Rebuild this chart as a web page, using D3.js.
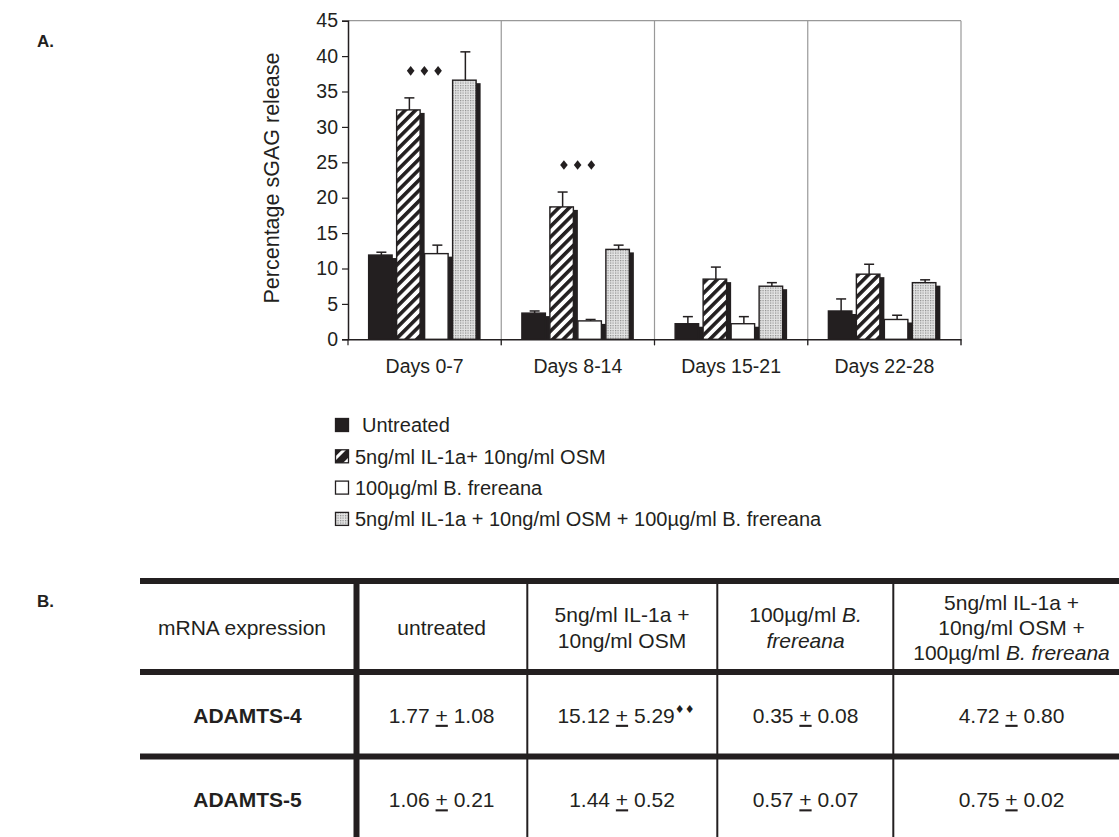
<!DOCTYPE html>
<html><head><meta charset="utf-8">
<script src="https://cdn.jsdelivr.net/npm/d3@7/dist/d3.min.js"></script>
<style>body{margin:0;background:#fff} svg{display:block;font-family:"Liberation Sans",Arial,Helvetica,sans-serif}</style>
</head><body><svg id="c" width="1119" height="837"></svg>
<script>
// ---------- DATA ----------
const categories = ["Days 0-7", "Days 8-14", "Days 15-21", "Days 22-28"];
const seriesNames = [
  "Untreated",
  "5ng/ml IL-1a+ 10ng/ml OSM",
  "100\u00b5g/ml B. frereana",
  "5ng/ml IL-1a + 10ng/ml OSM + 100\u00b5g/ml B. frereana"
];
const untreated      = [11.9, 3.7, 2.2, 4.0];
const untreatedErr   = [0.4, 0.3, 1.0, 1.7];
const il1Osm         = [32.4, 18.7, 8.5, 9.2];
const il1OsmErr      = [1.7, 2.1, 1.7, 1.4];
const frereana       = [12.1, 2.6, 2.2, 2.8];
const frereanaErr    = [1.2, 0.2, 1.0, 0.6];
const combo          = [36.6, 12.7, 7.5, 8.0];
const comboErr       = [4.0, 0.6, 0.5, 0.4];
const significance   = [3, 3, 0, 0];          // number of diamonds over the IL-1a+OSM bar
const yTicks         = [0, 5, 10, 15, 20, 25, 30, 35, 40, 45];
const yLabel         = "Percentage sGAG release";

const tableRowLabels = ["ADAMTS-4", "ADAMTS-5"];
const tableMeans     = [[1.77, 15.12, 0.35, 4.72], [1.06, 1.44, 0.57, 0.75]];
const tableSDs       = [[1.08, 5.29, 0.08, 0.80], [0.21, 0.52, 0.07, 0.02]];
const tableSig       = [[0, 2, 0, 0], [0, 0, 0, 0]];
// header lines: each line is list of [text, italic]
const tableHeader = [
  [[["mRNA expression", false]]],
  [[["untreated", false]]],
  [[["5ng/ml IL-1a +", false]], [["10ng/ml OSM", false]]],
  [[["100\u00b5g/ml ", false], ["B.", true]], [["frereana", true]]],
  [[["5ng/ml IL-1a +", false]], [["10ng/ml OSM +", false]], [["100\u00b5g/ml ", false], ["B. frereana", true]]]
];

// ---------- SETUP ----------
const values = [untreated, il1Osm, frereana, combo];
const errors = [untreatedErr, il1OsmErr, frereanaErr, comboErr];
const svg = d3.select("#c");
const ink = "#231f20";
const plot = {left: 348, right: 961, top: 20.7, bottom: 339.3};

const defs = svg.append("defs");
const hatch = defs.append("pattern").attr("id", "hatch").attr("patternUnits", "userSpaceOnUse")
  .attr("width", 7.4).attr("height", 7.4).attr("patternTransform", "rotate(45)");
hatch.append("rect").attr("width", 7.4).attr("height", 7.4).attr("fill", "#fff");
hatch.append("rect").attr("width", 3.6).attr("height", 7.4).attr("fill", ink);
const hatchL = defs.append("pattern").attr("id", "hatchL").attr("patternUnits", "userSpaceOnUse")
  .attr("width", 10).attr("height", 10).attr("patternTransform", "translate(335,0) rotate(45)");
hatchL.append("rect").attr("width", 10).attr("height", 10).attr("fill", ink);
hatchL.append("rect").attr("x", 3).attr("width", 3).attr("height", 10).attr("fill", "#fff");
const dots = defs.append("pattern").attr("id", "dots").attr("patternUnits", "userSpaceOnUse")
  .attr("width", 2.5).attr("height", 2.5);
dots.append("rect").attr("width", 2.5).attr("height", 2.5).attr("fill", "#e4e4e4");
dots.append("rect").attr("width", 1.2).attr("height", 1.2).attr("fill", "#8a8a8a");

const fills = [ink, "url(#hatch)", "#fff", "url(#dots)"];
const legendFills = [ink, "url(#hatchL)", "#fff", "url(#dots)"];

const y = d3.scaleLinear().domain([0, 45]).range([plot.bottom, plot.top]);
const x0 = d3.scaleBand().domain(categories).range([plot.left, plot.right]).padding(0);
const x1 = d3.scaleBand().domain(d3.range(4)).range([0, x0.bandwidth()]).paddingInner(0).paddingOuter(0.737);
const shadowDx = 4.5, shadowDy = 3;
const barW = x1.bandwidth() - shadowDx;

// frame: gray separators, top and right border
const g = svg.append("g");
g.selectAll("line.sep").data(categories.slice(1)).join("line")
  .attr("x1", d => x0(d)).attr("x2", d => x0(d))
  .attr("y1", plot.top).attr("y2", plot.bottom + 6)
  .attr("stroke", "#999").attr("stroke-width", 1.2);
g.append("line").attr("x1", plot.left).attr("x2", plot.right).attr("y1", plot.top).attr("y2", plot.top)
  .attr("stroke", "#999").attr("stroke-width", 1.2);
g.append("line").attr("x1", plot.right).attr("x2", plot.right).attr("y1", plot.top).attr("y2", plot.bottom + 6)
  .attr("stroke", "#999").attr("stroke-width", 1.2);

// bars
const flat = [];
categories.forEach((c, gi) => values.forEach((arr, si) => flat.push({c, gi, si, v: arr[gi], e: errors[si][gi]})));
const bx = d => x0(d.c) + x1(d.si);
const bars = g.append("g");
flat.forEach(d => {
  bars.append("rect").attr("x", bx(d) + shadowDx).attr("y", y(d.v) + shadowDy)
    .attr("width", barW).attr("height", Math.max(0, y(0) - y(d.v) - shadowDy)).attr("fill", ink);
  bars.append("rect").attr("x", bx(d)).attr("y", y(d.v))
    .attr("width", barW).attr("height", y(0) - y(d.v))
    .attr("fill", fills[d.si]).attr("stroke", ink).attr("stroke-width", 1.4);
});
// error bars
const eb = g.append("g").attr("stroke", ink).attr("stroke-width", 1.5);
flat.forEach(d => {
  const cx = bx(d) + barW / 2 + 1;
  eb.append("line").attr("x1", cx).attr("x2", cx).attr("y1", y(d.v)).attr("y2", y(d.v + d.e));
  eb.append("line").attr("x1", cx - 5).attr("x2", cx + 5).attr("y1", y(d.v + d.e)).attr("y2", y(d.v + d.e));
});
// significance diamonds
significance.forEach((n, gi) => {
  if (!n) return;
  const cx = x0(categories[gi]) + x1(1) + barW / 2 + 16;
  const cy = y(il1Osm[gi] + il1OsmErr[gi]) - 27;
  for (let k = 0; k < n; k++) {
    const dx = cx + (k - (n - 1) / 2) * 13.7;
    g.append("path").attr("d", `M${dx},${cy - 4.8}L${dx + 3.8},${cy}L${dx},${cy + 4.8}L${dx - 3.8},${cy}Z`).attr("fill", ink);
  }
});

// axes
const yAxis = g.append("g").attr("transform", `translate(${plot.left},0)`)
  .call(d3.axisLeft(y).tickValues(yTicks).tickSize(6).tickPadding(4));
yAxis.select(".domain").attr("stroke", ink).attr("stroke-width", 1.5);
yAxis.selectAll(".tick line").attr("stroke", ink).attr("stroke-width", 1.2);
yAxis.selectAll(".tick text").attr("font-size", 19.5).attr("fill", ink).attr("font-family", "Liberation Sans, Arial, sans-serif");

const xAxis = g.append("g").attr("transform", `translate(0,${plot.bottom})`)
  .call(d3.axisBottom(x0).tickSize(0).tickPadding(20));
xAxis.select(".domain").attr("stroke", ink).attr("stroke-width", 1.5);
xAxis.selectAll(".tick text").attr("font-size", 19.5).attr("fill", ink).attr("font-family", "Liberation Sans, Arial, sans-serif");
g.selectAll("line.xt").data(categories.map(c => x0(c)).concat([plot.right])).join("line")
  .attr("x1", d => d).attr("x2", d => d).attr("y1", plot.bottom).attr("y2", plot.bottom + 6)
  .attr("stroke", ink).attr("stroke-width", 1.2);

svg.append("text").attr("transform", `translate(279,${(plot.top + plot.bottom) / 2 - 2}) rotate(-90)`)
  .attr("text-anchor", "middle").attr("font-size", 21.5).attr("fill", ink).text(yLabel);

// legend
const lg = svg.append("g");
seriesNames.forEach((name, i) => {
  const cy = 425 + i * 31.3;
  lg.append("rect").attr("x", 335.5).attr("y", cy - 6.5).attr("width", 13).attr("height", 13)
    .attr("fill", legendFills[i]).attr("stroke", ink).attr("stroke-width", 1.3);
  lg.append("text").attr("x", i === 0 ? 362 : 355).attr("y", cy).attr("dy", "0.36em")
    .attr("font-size", 20).attr("fill", ink).text(name);
});

// panel letters
svg.append("text").attr("x", 37).attr("y", 47).attr("font-size", 17).attr("font-weight", "bold").attr("fill", ink).text("A.");
svg.append("text").attr("x", 37).attr("y", 607).attr("font-size", 17).attr("font-weight", "bold").attr("fill", ink).text("B.");

// ---------- TABLE ----------
const colEdges = [140, 356.5, 527.3, 717.3, 893.3, 1130];
const rowEdges = [581, 672, 756.5, 841];
const tg = svg.append("g");
const colCenters = [242, 441.7, 622, 805.5, 1011.5];
// thin column lines
colEdges.slice(2, 5).forEach(xx => tg.append("line").attr("x1", xx).attr("x2", xx)
  .attr("y1", rowEdges[0]).attr("y2", 837).attr("stroke", ink).attr("stroke-width", 2));
tg.append("line").attr("x1", colEdges[1]).attr("x2", colEdges[1]).attr("y1", rowEdges[0]).attr("y2", 837)
  .attr("stroke", ink).attr("stroke-width", 6);
rowEdges.slice(0, 3).forEach(yy => tg.append("line").attr("x1", 140).attr("x2", 1119)
  .attr("y1", yy).attr("y2", yy).attr("stroke", ink).attr("stroke-width", 6));

const lineH = 25.3;
const headMid = (rowEdges[0] + rowEdges[1]) / 2 + 1;
tableHeader.forEach((lines, ci) => {
  lines.forEach((segs, li) => {
    const t = tg.append("text").attr("x", colCenters[ci])
      .attr("y", headMid + (li - (lines.length - 1) / 2) * lineH).attr("dy", "0.36em")
      .attr("text-anchor", "middle").attr("font-size", 21).attr("fill", ink);
    segs.forEach(([s, it]) => t.append("tspan").attr("font-style", it ? "italic" : "normal").text(s));
  });
});
tableRowLabels.forEach((lab, ri) => {
  const cy = (rowEdges[ri + 1] + rowEdges[ri + 2]) / 2 + 1;
  tg.append("text").attr("x", 247.5).attr("y", cy).attr("dy", "0.36em").attr("text-anchor", "middle")
    .attr("font-size", 21).attr("font-weight", "bold").attr("fill", ink).text(lab);
  tableMeans[ri].forEach((m, ci) => {
    const t = tg.append("text").attr("x", colCenters[ci + 1] + (tableSig[ri][ci] ? 4 : 0)).attr("y", cy).attr("dy", "0.36em")
      .attr("text-anchor", "middle").attr("font-size", 21).attr("fill", ink);
    t.append("tspan").text(m.toFixed(2) + " ");
    t.append("tspan").attr("text-decoration", "underline").text("+");
    t.append("tspan").text(" " + tableSDs[ri][ci].toFixed(2));
    if (tableSig[ri][ci]) t.append("tspan").attr("font-size", 11).attr("dy", "-0.9em")
      .attr("font-family", "DejaVu Sans").text("\u2666".repeat(tableSig[ri][ci]));
  });
});
</script></body></html>
